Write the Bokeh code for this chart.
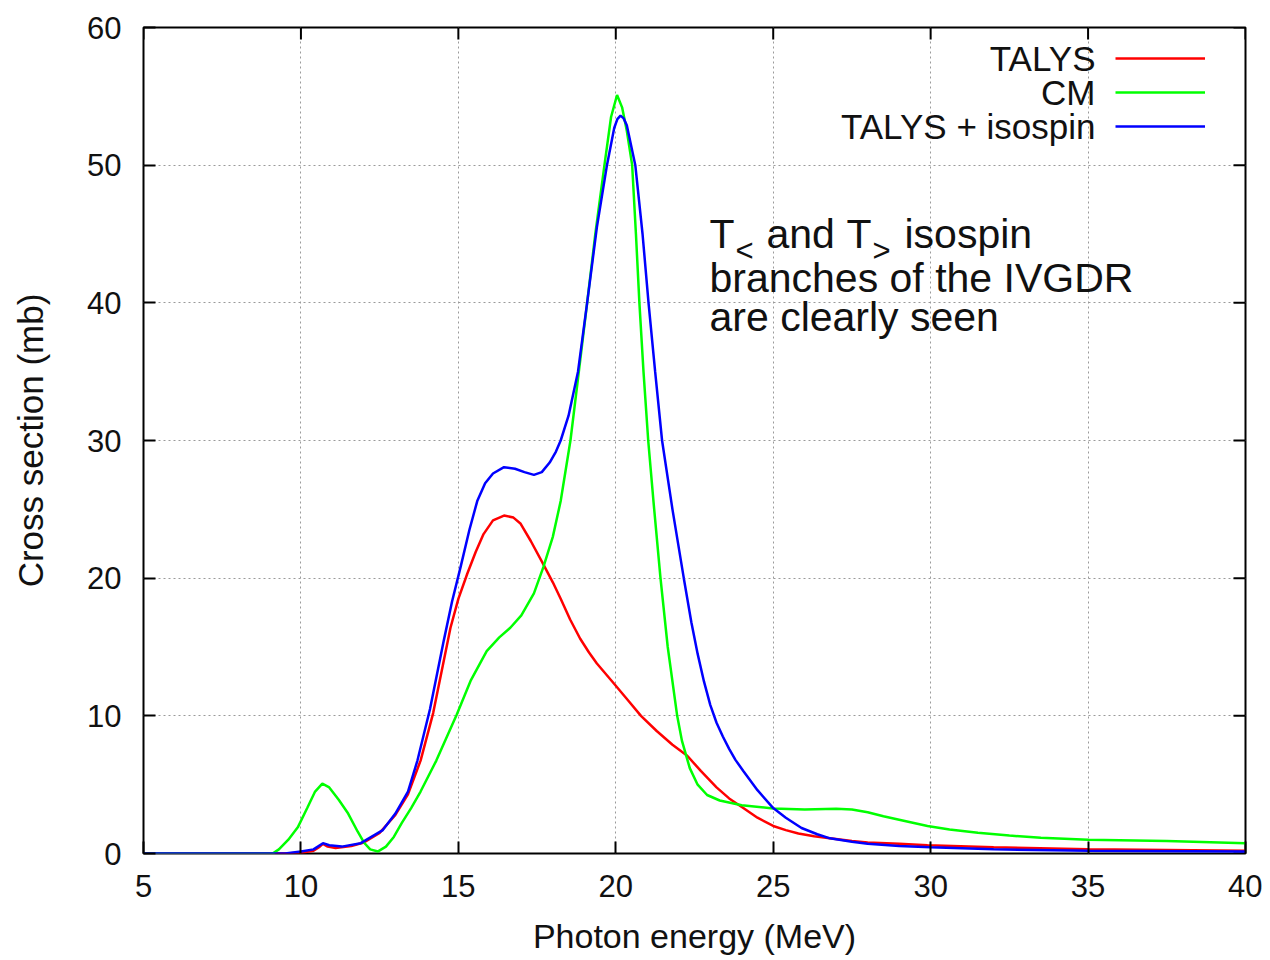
import math
from bokeh.plotting import figure
from bokeh.models import Range1d, FixedTicker, Label, Legend, LegendItem
from bokeh.core.properties import value
from bokeh.embed import file_html
from bokeh.resources import INLINE

# ---------------- data ----------------
x_ticks = [5, 10, 15, 20, 25, 30, 35, 40]
y_ticks = [0, 10, 20, 30, 40, 50, 60]

talys_e = [5, 9.5, 10.0, 10.4, 10.6, 10.7, 10.85, 11.1, 11.6, 12.0, 12.5, 13.0, 13.4, 13.8,
           14.2, 14.75, 15.0, 15.28, 15.55, 15.8, 16.1, 16.45, 16.75, 16.98, 17.3, 17.7,
           18.0, 18.25, 18.55, 18.87, 19.15, 19.4, 19.94, 20.4, 20.8, 21.3, 21.8, 22.27,
           22.7, 23.2, 23.6, 24.05, 24.5, 25.0, 25.4, 25.8, 26.3, 26.8, 27.5, 28.0, 29.0,
           29.9, 32.0, 35.0, 40.0]
talys_xs = [0, 0, 0.05, 0.2, 0.5, 0.7, 0.5, 0.4, 0.55, 0.8, 1.5, 2.8, 4.3, 6.75,
            10.2, 16.4, 18.5, 20.3, 21.9, 23.2, 24.2, 24.55, 24.4, 23.95, 22.7, 21.0,
            19.7, 18.5, 17.0, 15.6, 14.6, 13.8, 12.35, 11.1, 10.0, 8.9, 7.9, 7.1,
            6.0, 4.8, 4.0, 3.3, 2.6, 2.0, 1.7, 1.45, 1.25, 1.1, 0.9, 0.8, 0.7,
            0.6, 0.45, 0.3, 0.2]

cm_e = [5, 9.1, 9.3, 9.6, 9.9, 10.2, 10.45, 10.68, 10.9, 11.2, 11.5, 11.8, 12.0, 12.2,
        12.45, 12.7, 12.95, 13.2, 13.5, 13.8, 14.3, 14.95, 15.4, 15.9, 16.3, 16.65, 17.0,
        17.4, 17.7, 18.0, 18.25, 18.56, 18.8, 19.09, 19.35, 19.64, 19.85, 20.04, 20.2,
        20.35, 20.52, 20.64, 20.75, 20.88, 21.03, 21.2, 21.42, 21.65, 21.95, 22.1, 22.35,
        22.6, 22.9, 23.3, 24.0, 25.0, 26.0, 27.0, 27.5, 28.0, 28.5, 29.0, 29.9, 30.6,
        31.5, 32.5, 33.5, 35.0, 37.5, 40.0]
cm_xs = [0, 0, 0.3, 1.0, 1.9, 3.3, 4.5, 5.08, 4.8, 3.9, 2.9, 1.6, 0.8, 0.3,
         0.15, 0.5, 1.2, 2.2, 3.3, 4.5, 6.75, 10.1, 12.6, 14.7, 15.7, 16.4, 17.3,
         18.9, 20.8, 23.0, 25.6, 30.0, 34.5, 40.0, 45.0, 50.0, 53.5, 55.1, 54.2,
         52.5, 50.0, 45.0, 40.0, 35.0, 30.0, 25.5, 20.0, 15.0, 10.0, 8.2, 6.2,
         5.0, 4.25, 3.85, 3.5, 3.27, 3.2, 3.25, 3.2, 3.0, 2.7, 2.45, 2.0, 1.75,
         1.5, 1.3, 1.15, 1.0, 0.9, 0.75]

iso_e = [5, 9.5, 10.0, 10.4, 10.6, 10.7, 10.9, 11.3, 11.9, 12.6, 13.0, 13.4, 13.7, 14.1,
         14.54, 14.8, 15.07, 15.35, 15.6, 15.85, 16.1, 16.45, 16.8, 17.1, 17.4, 17.65,
         17.9, 18.1, 18.25, 18.5, 18.8, 19.09, 19.4, 19.72, 19.95, 20.05, 20.15, 20.25,
         20.35, 20.62, 20.85, 21.04, 21.25, 21.47, 21.8, 22.16, 22.4, 22.6, 22.8, 23.0,
         23.2, 23.4, 23.6, 23.8, 24.05, 24.5, 25.0, 25.4, 25.9, 26.4, 26.8, 27.5, 28.0,
         29.0, 30.0, 32.0, 35.0, 40.0]
iso_xs = [0, 0, 0.15, 0.3, 0.6, 0.75, 0.6, 0.5, 0.75, 1.7, 2.9, 4.5, 6.75, 10.5,
          15.5, 18.3, 20.8, 23.5, 25.6, 26.9, 27.6, 28.06, 27.95, 27.7, 27.5, 27.7,
          28.4, 29.2, 30.0, 31.8, 35.0, 40.0, 45.5, 50.0, 52.7, 53.35, 53.6, 53.4,
          52.9, 50.0, 45.0, 40.0, 35.0, 30.0, 25.0, 20.0, 16.8, 14.5, 12.5, 10.8,
          9.5, 8.5, 7.6, 6.8, 6.0, 4.6, 3.3, 2.6, 1.85, 1.4, 1.1, 0.85, 0.7,
          0.55, 0.45, 0.3, 0.2, 0.15]

series_labels = ["TALYS", "CM", "TALYS + isospin"]
series_colors = ["#ff0000", "#00ff00", "#0000ff"]

FONT = "Liberation Sans"
TXT = "#111111"

# ---------------- figure ----------------
p = figure(frame_width=1102, frame_height=826,
           min_border_left=143, min_border_right=17, min_border_top=27, min_border_bottom=80,
           x_range=Range1d(5, 40), y_range=Range1d(0, 60),
           output_backend="svg", toolbar_location=None,
           background_fill_color="white", border_fill_color="white")
p.outline_line_color = "black"
p.outline_line_width = 2

for ax, ticks in ((p.xaxis[0], x_ticks), (p.yaxis[0], y_ticks)):
    ax.ticker = FixedTicker(ticks=ticks)
    ax.major_tick_in = 12
    ax.major_tick_out = 0
    ax.major_tick_line_width = 2
    ax.major_tick_line_color = "black"
    ax.minor_tick_line_color = None
    ax.axis_line_color = None
    ax.major_label_text_font = FONT
    ax.major_label_text_font_size = "31px"
    ax.major_label_text_color = TXT
    ax.axis_label_text_font = FONT
    ax.axis_label_text_font_size = "34px"
    ax.axis_label_text_font_style = "normal"
    ax.axis_label_text_color = TXT

p.xaxis[0].axis_label = "Photon energy (MeV)"
p.yaxis[0].axis_label = "Cross section (mb)"
p.yaxis[0].axis_label_text_font_size = "35px"
p.xaxis[0].major_label_standoff = 21
p.xaxis[0].axis_label_standoff = 17
p.yaxis[0].major_label_standoff = 22
p.yaxis[0].axis_label_standoff = 34

# grid
p.xgrid[0].ticker = FixedTicker(ticks=x_ticks)
p.ygrid[0].ticker = FixedTicker(ticks=y_ticks)
for g in (p.xgrid[0], p.ygrid[0]):
    g.grid_line_color = "#9a9a9a"
    g.grid_line_dash = "2 3"
    g.grid_line_width = 1

# mirrored inward ticks on top and right edges (gnuplot style)
p.ray(x=x_ticks, y=[y_ticks[-1]] * len(x_ticks), length=12, length_units="screen",
      angle=-math.pi / 2, line_color="black", line_width=2)
p.ray(x=[x_ticks[-1]] * len(y_ticks), y=y_ticks, length=12, length_units="screen",
      angle=math.pi, line_color="black", line_width=2)

# curves
r1 = p.line(talys_e, talys_xs, line_color=series_colors[0], line_width=2.5)
r2 = p.line(cm_e, cm_xs, line_color=series_colors[1], line_width=2.5)
r3 = p.line(iso_e, iso_xs, line_color=series_colors[2], line_width=2.5)

# legend samples (gnuplot puts the sample to the right of the text)
legend = Legend(items=[LegendItem(label=value(" "), renderers=[r]) for r in (r1, r2, r3)],
                location=(972, 710), glyph_width=90, glyph_height=34, label_height=34,
                label_width=0, label_standoff=0, spacing=0, padding=0, margin=0,
                border_line_color=None, background_fill_alpha=0,
                label_text_font_size="8px")
p.add_layout(legend)

# legend texts, right-aligned to the left of the samples
for i, lab in enumerate(series_labels):
    p.add_layout(Label(x=952, y=795 - 34 * i, x_units="screen", y_units="screen",
                       text=lab, text_align="right", text_baseline="middle",
                       text_font=FONT, text_font_size="35px", text_color=TXT))

# annotation text
AF = "41px"
SF = "31px"
def ann(x, y, t, size=AF):
    p.add_layout(Label(x=x, y=y, x_units="screen", y_units="screen", text=t,
                       text_align="left", text_baseline="middle",
                       text_font=FONT, text_font_size=size, text_color=TXT))

ann(566, 620, "T")
ann(592, 603, "<", SF)
ann(623, 620, "and")
ann(703, 620, "T")
ann(729, 603, ">", SF)
ann(761, 620, "isospin")
ann(566, 576, "branches of the IVGDR")
ann(566, 537, "are clearly seen")

open("out.html", "w").write(file_html(p, INLINE))
